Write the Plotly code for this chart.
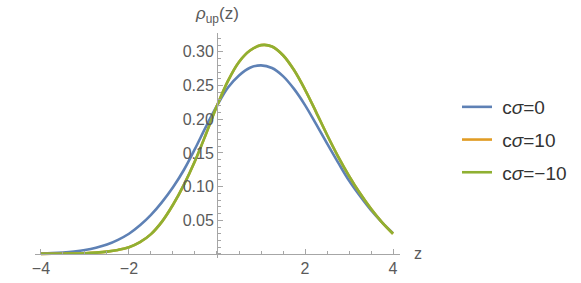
import plotly.graph_objects as go

# z positions where the curves were read
z = [-4.0, -3.75, -3.5, -3.25, -3.0, -2.75, -2.5, -2.25, -2.0, -1.75, -1.5, -1.25,
     -1.0, -0.75, -0.5, -0.25, 0.0, 0.25, 0.5, 0.75, 1.0, 1.25, 1.5, 1.75,
     2.0, 2.25, 2.5, 2.75, 3.0, 3.25, 3.5, 3.75, 4.0]

rho_c0 = [0.0008, 0.0013, 0.0022, 0.0036, 0.0058, 0.0092, 0.0140, 0.0210, 0.0300, 0.0425, 0.0580, 0.0770,
          0.0990, 0.1250, 0.1560, 0.1890, 0.2200, 0.2470, 0.2650, 0.2765, 0.2800, 0.2760, 0.2640, 0.2450,
          0.2210, 0.1930, 0.1640, 0.1360, 0.1090, 0.0860, 0.0650, 0.0470, 0.0310]

rho_c10 = [0.0001, 0.0002, 0.0003, 0.0006, 0.0011, 0.0020, 0.0035, 0.0060, 0.0100, 0.0175, 0.0295, 0.0480,
           0.0730, 0.1030, 0.1380, 0.1780, 0.2200, 0.2570, 0.2850, 0.3020, 0.3100, 0.3080, 0.2950, 0.2730,
           0.2440, 0.2110, 0.1770, 0.1450, 0.1160, 0.0900, 0.0670, 0.0470, 0.0300]

rho_cm10 = [0.0001, 0.0002, 0.0003, 0.0006, 0.0011, 0.0020, 0.0035, 0.0060, 0.0100, 0.0175, 0.0295, 0.0480,
            0.0730, 0.1030, 0.1380, 0.1780, 0.2200, 0.2570, 0.2850, 0.3020, 0.3100, 0.3080, 0.2950, 0.2730,
            0.2440, 0.2110, 0.1770, 0.1450, 0.1160, 0.0900, 0.0670, 0.0470, 0.0300]

series_names = ["\u00a0c<i>σ</i>=0", "\u00a0c<i>σ</i>=10", "\u00a0c<i>σ</i>=\u221210"]
series_colors = ["#5E81B5", "#E19C24", "#8FB032"]

x_tickvals = [-4, -2, 2, 4]
x_ticktext = ["\u22124", "\u22122", "2", "4"]
y_tickvals = [0.05, 0.10, 0.15, 0.20, 0.25, 0.30]
y_ticktext = ["0.05", "0.10", "0.15", "0.20", "0.25", "0.30"]

xr = [-4.136, 4.159]
yr = [-0.006, 0.328]

font_family = "Liberation Sans, Arial, sans-serif"
axis_gray = "#A6A6A6"
text_gray = "#5A5A5A"

fig = go.Figure()
for name, ys, col, grp in zip(series_names, [rho_c0, rho_c10, rho_cm10], series_colors, ["a", "b", "c"]):
    fig.add_trace(go.Scatter(x=z, y=ys, mode="lines", name=name, legendgroup=grp,
                             line=dict(color=col, width=2.6, shape="spline", smoothing=1.0)))

fig.update_layout(
    width=581, height=283,
    margin=dict(l=35, r=181, t=33, b=25, autoexpand=False),
    paper_bgcolor="white", plot_bgcolor="white",
    font=dict(family=font_family, color=text_gray, size=16),
    showlegend=True,
    legend=dict(x=(457 - 35) / 365, xanchor="left", y=(258 - 88) / 225, yanchor="top",
                font=dict(size=19, color="#333333"), itemwidth=30,
                tracegroupgap=5, bgcolor="rgba(0,0,0,0)"),
    xaxis=dict(range=xr, showgrid=False, zeroline=False, showline=True, linecolor=axis_gray,
               linewidth=1, anchor="free", position=(0 - yr[0]) / (yr[1] - yr[0]),
               tickvals=x_tickvals, ticktext=x_ticktext, ticks="inside", ticklen=5,
               tickcolor=axis_gray, tickfont=dict(size=16, color=text_gray),
               minor=dict(dtick=0.5, ticks="inside", ticklen=3, tickcolor=axis_gray)),
    yaxis=dict(range=yr, showgrid=False, zeroline=False, showline=True, linecolor=axis_gray,
               linewidth=1, anchor="free", position=(0 - xr[0]) / (xr[1] - xr[0]),
               tickvals=y_tickvals, ticktext=y_ticktext, ticks="inside", ticklen=5,
               tickcolor=axis_gray, tickfont=dict(size=16, color=text_gray),
               minor=dict(dtick=0.01, ticks="inside", ticklen=3, tickcolor=axis_gray)),
    annotations=[
        dict(text="<i>ρ</i><sub>up</sub>(z)", xref="x", x=0, yref="paper", y=(258 - 15) / 225,
             xanchor="center", yanchor="middle", showarrow=False,
             font=dict(size=17, color=text_gray)),
        dict(text="z", xref="paper", x=(418 - 35) / 365, yref="y", y=0,
             xanchor="center", yanchor="middle", showarrow=False,
             font=dict(size=16, color=text_gray)),
    ],
)

fig.write_html("out.html", config={"displayModeBar": False},
               post_script="document.body.style.margin='0px';document.body.style.padding='0px';")
